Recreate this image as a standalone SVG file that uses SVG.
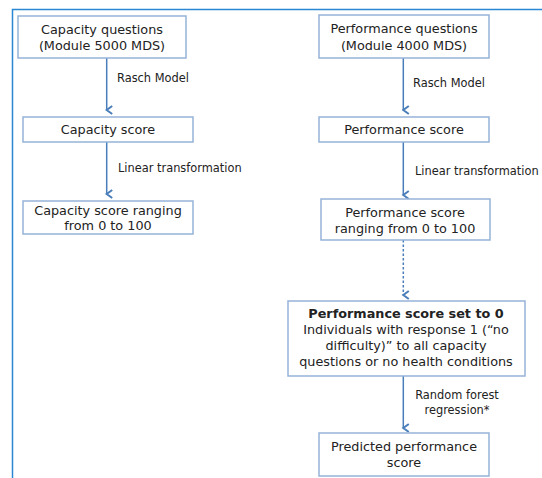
<svg xmlns="http://www.w3.org/2000/svg" width="542" height="478" viewBox="0 0 542 478">
<defs>
<marker id="ah" markerWidth="12" markerHeight="12" refX="6" refY="9" orient="auto" markerUnits="userSpaceOnUse" viewBox="0 0 12 12">
<path d="M2,3.5 L6,9 L10,3.5" fill="none" stroke="#4a7ebb" stroke-width="2" stroke-linejoin="miter"/>
</marker>
</defs>
<style>
.box{fill:#fff;stroke:#95b3d7;stroke-width:1.5}
.t{font-family:"DejaVu Sans",Verdana,sans-serif;font-size:12.8px;fill:#222;text-anchor:middle}
.b{font-weight:bold}
.l{font-family:"DejaVu Sans",Verdana,sans-serif;font-size:11.4px;fill:#222}
.c{stroke:#4a7ebb;stroke-width:1.5;fill:none;marker-end:url(#ah)}
.d{stroke-dasharray:2.5,2}
</style>
<rect width="542" height="478" fill="#fff"/>
<path d="M12.5,478 V9.5 H542" fill="none" stroke="#2b87d3" stroke-width="1.5"/>
<g id="connectors">
<line class="c" x1="106.7" y1="58" x2="106.7" y2="110"/>
<line class="c" x1="106.7" y1="142" x2="106.7" y2="194"/>
<line class="c" x1="403.3" y1="58" x2="403.3" y2="110"/>
<line class="c" x1="403.3" y1="142" x2="403.3" y2="195"/>
<line class="c d" x1="403.3" y1="240" x2="403.3" y2="295"/>
<line class="c" x1="403.3" y1="376" x2="403.3" y2="428"/>
<text class="l" x="117" y="82">Rasch Model</text>
<text class="l" x="118" y="172">Linear transformation</text>
<text class="l" x="413" y="87">Rasch Model</text>
<text class="l" x="415" y="175">Linear transformation</text>
<text class="l" x="457" y="399" text-anchor="middle">Random forest</text>
<text class="l" x="457" y="414" text-anchor="middle">regression*</text>
</g>
<g id="cap-questions">
<rect class="box" x="18" y="16" width="168" height="42"/>
<text class="t" x="102" y="34">Capacity questions</text>
<text class="t" x="102" y="50">(Module 5000 MDS)</text>
</g>
<g id="cap-score">
<rect class="box" x="23" y="117" width="170" height="25"/>
<text class="t" x="108" y="134">Capacity score</text>
</g>
<g id="cap-range">
<rect class="box" x="23" y="201" width="170" height="33"/>
<text class="t" x="108" y="215">Capacity score ranging</text>
<text class="t" x="108" y="230">from 0 to 100</text>
</g>
<g id="perf-questions">
<rect class="box" x="319" y="15" width="170" height="43"/>
<text class="t" x="404" y="33">Performance questions</text>
<text class="t" x="404" y="50">(Module 4000 MDS)</text>
</g>
<g id="perf-score">
<rect class="box" x="319" y="117" width="170" height="25"/>
<text class="t" x="404" y="134">Performance score</text>
</g>
<g id="perf-range">
<rect class="box" x="321" y="199" width="169" height="41"/>
<text class="t" x="405" y="217">Performance score</text>
<text class="t" x="405" y="233">ranging from 0 to 100</text>
</g>
<g id="perf-zero">
<rect class="box" x="288" y="301" width="237" height="75"/>
<text class="t b" x="406" y="318">Performance score set to 0</text>
<text class="t" x="406" y="334">Individuals with response 1 (“no</text>
<text class="t" x="406" y="350">difficulty)” to all capacity</text>
<text class="t" x="406" y="366">questions or no health conditions</text>
</g>
<g id="predicted">
<rect class="box" x="319" y="433" width="170" height="43"/>
<text class="t" x="404" y="451">Predicted performance</text>
<text class="t" x="404" y="467">score</text>
</g>
</svg>
